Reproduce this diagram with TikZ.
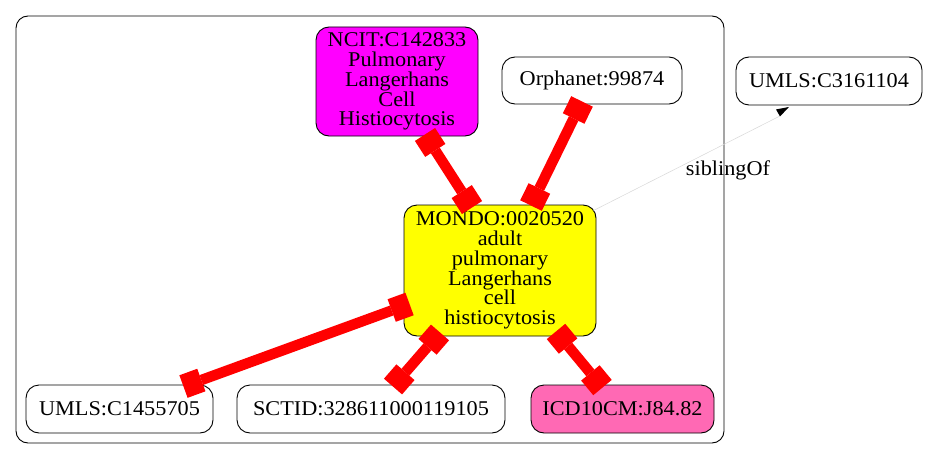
\documentclass[tikz,border=0pt]{standalone}
\usepackage{fontspec}
\setmainfont[FakeStretch=1.06]{Liberation Serif}
\usetikzlibrary{arrows.meta}
\definecolor{ncitmag}{HTML}{FF00FF}
\definecolor{mondoyel}{HTML}{FFFF00}
\definecolor{icdpink}{HTML}{FF69B4}
\definecolor{siblinggray}{HTML}{D8D8D8}
\begin{document}
\begin{tikzpicture}[x=1pt,y=-1pt,
  txt/.style={font=\fontsize{21}{19.8}\selectfont},
  nodebox/.style={txt, draw=black, line width=0.9pt, rounded corners=13pt, align=center, inner sep=0pt},
  clusterbox/.style={draw=black, line width=0.9pt, rounded corners=12pt, inner sep=0pt},
  rel/.style={draw=red, line width=10.5pt,
    {Square[length=19pt,width=24pt,line width=0pt]}-{Square[length=19pt,width=24pt,line width=0pt]}},
  sib/.style={draw=siblinggray, line width=0.5pt},
  sibhead/.style={fill=black}
]
\useasboundingbox (0,0) rectangle (928,460);
\fill[white] (0,0) rectangle (928,460);

\node[clusterbox, minimum width=708pt, minimum height=427pt] (cluster) at (370,229.5) {};

\node[nodebox, fill=ncitmag, minimum width=162pt, minimum height=109pt] (ncit) at (397,81.5)
  {NCIT:C142833\\Pulmonary\\Langerhans\\Cell\\Histiocytosis};
\node[nodebox, minimum width=180pt, minimum height=47pt] (orph) at (592,80.5) {Orphanet:99874};
\node[nodebox, minimum width=186pt, minimum height=48pt] (umlsA) at (829,81) {UMLS:C3161104};
\node[nodebox, fill=mondoyel, minimum width=192pt, minimum height=131pt] (mondo) at (500,270.5)
  {MONDO:0020520\\adult\\pulmonary\\Langerhans\\cell\\histiocytosis};
\node[nodebox, minimum width=187pt, minimum height=48pt] (umlsB) at (119.5,409) {UMLS:C1455705};
\node[nodebox, minimum width=268pt, minimum height=48pt] (sctid) at (371,409) {SCTID:328611000119105};
\node[nodebox, fill=icdpink, minimum width=183pt, minimum height=48pt] (icd) at (622.5,409) {ICD10CM:J84.82};

\draw[rel] ([xshift=28pt,yshift=2pt]ncit.south) -- ([xshift=-28pt,yshift=-3pt]mondo.north);
\draw[rel] ([xshift=-10pt,yshift=3pt]orph.south) -- ([xshift=31pt,yshift=-1pt]mondo.north);
\draw[rel] ([xshift=6pt,yshift=-33.5pt]mondo.west) -- ([xshift=64pt,yshift=-2pt]umlsB.north);
\draw[rel] ([xshift=-60pt,yshift=4pt]mondo.south) -- ([xshift=22pt,yshift=-2pt]sctid.north);
\draw[rel] ([xshift=56pt,yshift=5pt]mondo.south) -- ([xshift=-20pt,yshift=-3pt]icd.north);

\coordinate (sibend) at ([xshift=-48pt,yshift=-10pt]umlsA.south);
\draw[sib] ([xshift=-3pt,yshift=-6pt]mondo.north east) -- (sibend);
\fill[sibhead] ([xshift=-53pt,yshift=-4pt]umlsA.south) -- ([xshift=-40pt,yshift=-1.5pt]umlsA.south) -- ([xshift=-49pt,yshift=-11pt]umlsA.south) -- cycle;
\node[txt, inner sep=0pt] (siblingtxt) at (728,170) {siblingOf};
\end{tikzpicture}
\end{document}
